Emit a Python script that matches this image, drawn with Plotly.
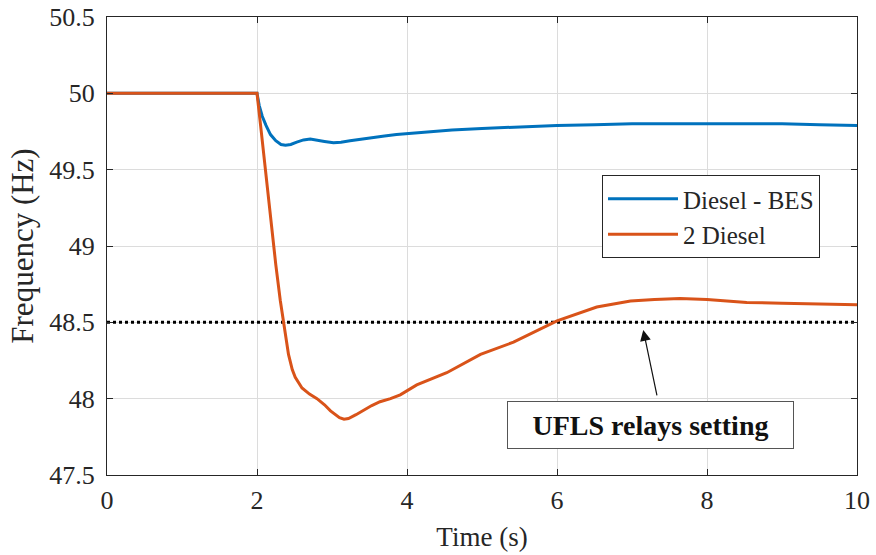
import plotly.graph_objects as go

# Time (s) and frequency (Hz)
t_bes = [0, 2.0, 2.03, 2.07, 2.12, 2.18, 2.25, 2.32, 2.38, 2.45, 2.53, 2.62, 2.71, 2.80, 2.90,
         3.02, 3.12, 3.24, 3.38, 3.51, 3.70, 3.86, 4.1, 4.31, 4.6, 5.0, 5.5, 6.0, 6.5, 7.0,
         7.5, 8.0, 8.5, 9.0, 9.5, 10]
f_bes = [50, 50, 49.92, 49.85, 49.79, 49.73, 49.69, 49.665, 49.66, 49.665, 49.68, 49.695,
         49.70, 49.695, 49.685, 49.676, 49.68, 49.69, 49.70, 49.71, 49.72, 49.73, 49.74,
         49.75, 49.76, 49.77, 49.78, 49.79, 49.795, 49.80, 49.80, 49.80, 49.80, 49.80,
         49.795, 49.79]

t_2d = [0, 2.0, 2.05, 2.1, 2.15, 2.2, 2.25, 2.31, 2.355, 2.42, 2.47, 2.51, 2.6, 2.7, 2.8,
        2.9, 2.98, 3.1, 3.16, 3.22, 3.32, 3.42, 3.53, 3.64, 3.78, 3.91, 4.13, 4.53, 4.98,
        5.42, 6.0, 6.53, 6.98, 7.3, 7.64, 8.0, 8.53, 9.0, 9.42, 10]
f_2d = [50, 50, 49.78, 49.55, 49.32, 49.1, 48.88, 48.645, 48.50, 48.29, 48.19, 48.14,
        48.07, 48.03, 48.0, 47.96, 47.92, 47.875, 47.865, 47.87, 47.895, 47.925, 47.955,
        47.98, 48.0, 48.025, 48.09, 48.17, 48.29, 48.37, 48.51, 48.60, 48.64, 48.65,
        48.656, 48.65, 48.63, 48.625, 48.62, 48.615]

ufls_t = [0, 10]
ufls_f = [48.5, 48.5]

x_ticks = [0, 2, 4, 6, 8, 10]
y_ticks = [47.5, 48, 48.5, 49, 49.5, 50, 50.5]
y_tick_text = ["47.5", "48", "48.5", "49", "49.5", "50", "50.5"]

FONT = "Liberation Serif"
TXT = "#262626"

fig = go.Figure()
fig.add_trace(go.Scatter(x=ufls_t, y=ufls_f, mode="lines", showlegend=False,
                         line=dict(color="black", width=3, dash="dot")))
fig.add_trace(go.Scatter(x=t_bes, y=f_bes, mode="lines", name="Diesel - BES",
                         line=dict(color="#0072BD", width=3)))
fig.add_trace(go.Scatter(x=t_2d, y=f_2d, mode="lines", name="2 Diesel",
                         line=dict(color="#D95319", width=3)))

axis_common = dict(showgrid=True, gridcolor="#DCDCDC", gridwidth=1, zeroline=False,
                   showline=True, linecolor=TXT, linewidth=1.2, mirror="ticks",
                   ticks="inside", ticklen=6, tickcolor=TXT, automargin=False,
                   tickfont=dict(family=FONT, size=26, color=TXT))

fig.update_xaxes(range=[0, 10], tickvals=x_ticks, ticklabelstandoff=2,
                 title=dict(text="Time (s)", font=dict(family=FONT, size=27, color=TXT),
                            standoff=12),
                 **axis_common)
fig.update_yaxes(range=[47.5, 50.5], tickvals=y_ticks, ticktext=y_tick_text,
                 ticklabelstandoff=6,
                 title=dict(text="Frequency (Hz)", font=dict(family=FONT, size=31, color=TXT),
                            standoff=6),
                 **axis_common)

fig.add_annotation(x=7.24, y=47.825, xref="x", yref="y", text="<b>UFLS relays setting</b>",
                   showarrow=False, font=dict(family=FONT, size=28, color="#111111"),
                   bgcolor="white", bordercolor="#555555", borderwidth=1, borderpad=2,
                   width=281, height=42)
fig.add_annotation(x=7.15, y=48.45, xref="x", yref="y", text="", showarrow=True,
                   ax=14, ay=67, arrowhead=2, arrowsize=1.8, arrowwidth=1.2,
                   arrowcolor="#111111")

fig.update_layout(
    width=876, height=555,
    margin=dict(l=107, r=19, t=17, b=80),
    paper_bgcolor="white", plot_bgcolor="white",
    legend=dict(x=0.66, y=0.655, xanchor="left", yanchor="top", itemwidth=70,
                bgcolor="white", bordercolor=TXT, borderwidth=1, tracegroupgap=0,
                font=dict(family=FONT, size=25, color=TXT)),
)

fig.write_html("out.html")
